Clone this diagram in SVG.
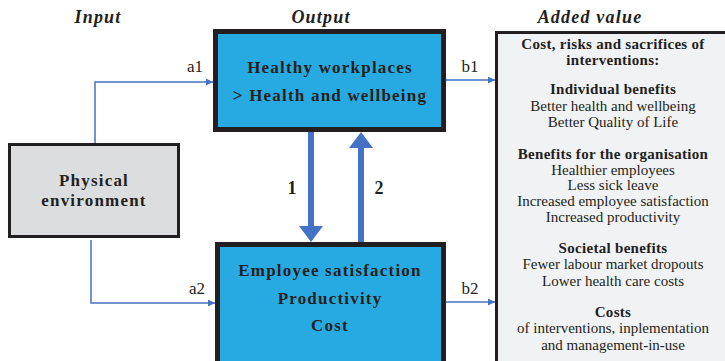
<svg xmlns="http://www.w3.org/2000/svg" width="725" height="361" viewBox="0 0 725 361">
<style>
text{font-family:"Liberation Serif","Times New Roman",serif;fill:#231f20;text-anchor:middle}
.hdr{font-size:18px;font-weight:bold;font-style:italic;letter-spacing:1.2px}
.big{font-size:17px;font-weight:bold;letter-spacing:1.2px}
.lbl{font-size:17px}
.num{font-size:18px;font-weight:bold}
.rb{font-size:15px;font-weight:bold;letter-spacing:0.3px}
.rr{font-size:15px}
.blue{fill:#27aae1;stroke:#231f20;stroke-width:5}
.thin{stroke:#4472c4;stroke-width:1.5;fill:none}
.thick{stroke:#4472c4;stroke-width:6;fill:none}
</style>
<defs>
<marker id="ah" viewBox="0 0 10 10" refX="10" refY="5" markerWidth="7" markerHeight="7" markerUnits="userSpaceOnUse" orient="auto"><path d="M0,0 L10,5 L0,10 z" fill="#4472c4"/></marker>
</defs>
<rect width="725" height="361" fill="#fff"/>
<text class="hdr" x="98" y="23">Input</text>
<text class="hdr" x="321" y="23">Output</text>
<text class="hdr" x="590" y="23">Added value</text>

<g id="connectors">
<path class="thin" d="M95,143 V82 H213" marker-end="url(#ah)"/>
<path class="thin" d="M91,240 V303 H215" marker-end="url(#ah)"/>
<path class="thin" d="M446,80 H495" marker-end="url(#ah)"/>
<path class="thin" d="M446,302 H495" marker-end="url(#ah)"/>
<line class="thick" x1="311" y1="132" x2="311" y2="227"/>
<path d="M299,226 H323 L311,242 z" fill="#4472c4"/>
<line class="thick" x1="361" y1="242" x2="361" y2="147"/>
<path d="M349,148 H373 L361,132 z" fill="#4472c4"/>
<text class="lbl" x="195" y="72">a1</text>
<text class="lbl" x="197" y="294">a2</text>
<text class="lbl" x="470" y="72">b1</text>
<text class="lbl" x="470" y="294">b2</text>
<text class="num" x="292" y="194">1</text>
<text class="num" x="379" y="194">2</text>
</g>

<g id="node-physical">
<rect x="9.5" y="144.5" width="169" height="92" fill="#dcdddf" stroke="#231f20" stroke-width="3"/>
<text class="big" x="94" y="186">Physical</text>
<text class="big" x="94" y="206">environment</text>
</g>

<g id="node-healthy">
<rect class="blue" x="215.5" y="31.5" width="228" height="98"/>
<text class="big" x="330" y="73">Healthy workplaces</text>
<text class="big" x="330" y="101">&gt; Health and wellbeing</text>
</g>

<g id="node-employee">
<rect class="blue" x="217.5" y="244.5" width="226" height="130"/>
<text class="big" x="330" y="276">Employee satisfaction</text>
<text class="big" x="330" y="304">Productivity</text>
<text class="big" x="330" y="331">Cost</text>
</g>

<g id="node-added-value">
<rect x="496.5" y="32.5" width="240" height="340" fill="#f1f2f4" stroke="#231f20" stroke-width="3"/>
<text class="rb" x="613" y="49">Cost, risks and sacrifices of</text>
<text class="rb" x="613" y="65">interventions:</text>
<text class="rb" x="613" y="94">Individual benefits</text>
<text class="rr" x="613" y="111">Better health and wellbeing</text>
<text class="rr" x="613" y="127">Better Quality of Life</text>
<text class="rb" x="613" y="159">Benefits for the organisation</text>
<text class="rr" x="613" y="175">Healthier employees</text>
<text class="rr" x="613" y="190">Less sick leave</text>
<text class="rr" x="613" y="206">Increased employee satisfaction</text>
<text class="rr" x="613" y="222">Increased productivity</text>
<text class="rb" x="613" y="253">Societal benefits</text>
<text class="rr" x="613" y="269">Fewer labour market dropouts</text>
<text class="rr" x="613" y="286">Lower health care costs</text>
<text class="rb" x="613" y="317">Costs</text>
<text class="rr" x="613" y="333">of interventions,  inplementation</text>
<text class="rr" x="613" y="350">and management-in-use</text>
</g>
</svg>
